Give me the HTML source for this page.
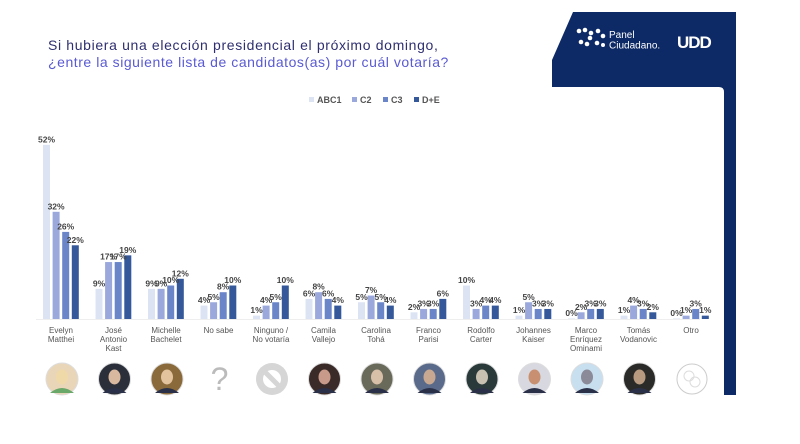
<!DOCTYPE html>
<html><head><meta charset="utf-8"><style>
html,body{margin:0;padding:0;background:#fff;}
svg{display:block;}
text{font-family:"Liberation Sans",sans-serif;}
</style></head><body>
<svg width="800" height="444" viewBox="0 0 800 444" xmlns="http://www.w3.org/2000/svg">
<rect width="800" height="444" fill="#fff"/>
<!-- navy shape -->
<path d="M573,12 L736,12 L736,395 L724,395 L724,92 Q724,87 719,87 L552,87 L552,60 Z" fill="#0d2a66"/>
<!-- logo dots -->
<g fill="#fff">
<circle cx="579" cy="31" r="2.3"/><circle cx="585" cy="30" r="2.3"/><circle cx="591" cy="33" r="2.3"/>
<circle cx="598" cy="31" r="2.3"/><circle cx="603" cy="36" r="2.3"/><circle cx="590" cy="38" r="2.3"/>
<circle cx="581" cy="42" r="2.3"/><circle cx="587" cy="44" r="2.3"/><circle cx="597" cy="43" r="2.3"/><circle cx="603" cy="45" r="2"/>
</g>
<text x="609" y="38" font-size="10" fill="#fff">Panel</text>
<text x="609" y="48.5" font-size="10" fill="#fff">Ciudadano.</text>
<text x="677" y="48" font-size="17" font-weight="bold" fill="#fff" letter-spacing="-1">UDD</text>
<!-- title -->
<text x="48" y="50" font-size="14" fill="#2f2f70" letter-spacing="0.65">Si hubiera una elección presidencial el próximo domingo,</text>
<text x="48" y="67" font-size="14" fill="#5a5ad2" letter-spacing="0.55">¿entre la siguiente lista de candidatos(as) por cuál votaría?</text>
<!-- legend -->
<g font-size="9" font-weight="bold" fill="#555">
<rect x="309" y="97" width="5" height="5" fill="#dce4f4"/><text x="317" y="103">ABC1</text>
<rect x="352" y="97" width="5" height="5" fill="#9aa8dc"/><text x="360" y="103">C2</text>
<rect x="383" y="97" width="5" height="5" fill="#6a86c8"/><text x="391" y="103">C3</text>
<rect x="414" y="97" width="5" height="5" fill="#34589a"/><text x="422" y="103">D+E</text>
</g>
<line x1="36" y1="319.5" x2="700" y2="319.5" stroke="#eee" stroke-width="1"/>
<g id="bars"></g>
<g id="labels" font-size="8" fill="#555" text-anchor="middle"></g>
<g id="pct" font-size="8.5" font-weight="bold" fill="#444" text-anchor="middle"></g>
<!-- icons -->
<g id="icons"></g>
</svg>
<script>
var data=[["Evelyn|Matthei",[52,32,26,22],"#e9d6b8","#f0d9a8"],["José|Antonio|Kast",[9,17,17,19],"#2a2f3a","#d9b8a0"],["Michelle|Bachelet",[9,9,10,12],"#8a6a3a","#e2c39e"],["No sabe",[4,5,8,10],null],["Ninguno /|No votaría",[1,4,5,10],null],["Camila|Vallejo",[6,8,6,4],"#3a2a28","#c89a8a"],["Carolina|Tohá",[5,7,5,4],"#6a6a5a","#d8c0a8"],["Franco|Parisi",[2,3,3,6],"#5a6a8a","#c8a890"],["Rodolfo|Carter",[10,3,4,4],"#2a3a3a","#c8c0b0"],["Johannes|Kaiser",[1,5,3,3],"#d8d8e0","#c89070"],["Marco|Enríquez|Ominami",[0,2,3,3],"#c8dff0","#8a8a98"],["Tomás|Vodanovic",[1,4,3,2],"#2a2a28","#b89a80"],["Otro",[0,1,3,1],null]];
var cols=["#dce4f4","#9aa8dc","#6a86c8","#34589a"];
var NS="http://www.w3.org/2000/svg";
function el(t,a,p,txt){var e=document.createElementNS(NS,t);for(var k in a)e.setAttribute(k,a[k]);if(txt!==undefined)e.textContent=txt;p.appendChild(e);return e;}
var B=document.getElementById("bars"),L=document.getElementById("labels"),P=document.getElementById("pct"),I=document.getElementById("icons");
var base=319,sc=3.35;
data.forEach(function(d,i){
 var x0=43+i*52.5;
 d[1].forEach(function(v,j){
  var x=x0+j*9.6,h=v*sc;if(v==0)h=0.6;
  el("rect",{x:x,y:base-h,width:7,height:h,fill:cols[j]},B);
  el("text",{x:x+3.5,y:base-h-2.5},P,v+"%");
 });
 var cx=x0+18;
 d[0].split("|").forEach(function(s,k){el("text",{x:cx,y:333+k*9},L,s);});
 var ix=62+i*52.5,iy=379;
 if(d[2]){
  el("circle",{cx:ix,cy:iy,r:16,fill:d[2],stroke:"#ddd","stroke-width":1},I);
  el("ellipse",{cx:ix,cy:iy-2,rx:6,ry:7.5,fill:d[3]},I);
  el("path",{d:"M"+(ix-12)+","+(iy+14)+" Q"+ix+","+(iy+4)+" "+(ix+12)+","+(iy+14)+" Z",fill:(i==0?"#6aa86a":"#2a3048")},I);
 } else if(i==3){
  el("text",{x:ix,y:iy+11,"font-size":32,fill:"#bbb","text-anchor":"middle"},I,"?");
 } else if(i==4){
  el("circle",{cx:ix,cy:iy,r:16,fill:"#d6d6d6"},I);
  el("circle",{cx:ix,cy:iy,r:9,fill:"#fff"},I);
  el("line",{x1:ix-7,y1:iy-7,x2:ix+7,y2:iy+7,stroke:"#d6d6d6","stroke-width":5},I);
 } else {
  el("circle",{cx:ix,cy:iy,r:15,fill:"none",stroke:"#ccc","stroke-width":1},I);
  el("circle",{cx:ix-3,cy:iy-3,r:5,fill:"none",stroke:"#ddd","stroke-width":1},I);
  el("circle",{cx:ix+3,cy:iy+3,r:5,fill:"none",stroke:"#ddd","stroke-width":1},I);
 }
});
</script>
</body></html>
